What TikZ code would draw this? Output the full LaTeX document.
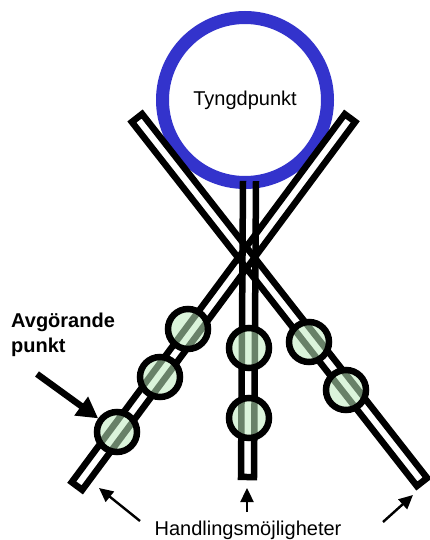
\documentclass[tikz,border=0pt]{standalone}
\usepackage{fontspec}
\setmainfont{Liberation Sans}
\usetikzlibrary{calc,arrows.meta}
\definecolor{ringblue}{RGB}{51,51,204}
\definecolor{beadgreen}{RGB}{190,235,190}
\begin{document}
\begin{tikzpicture}[x=1pt,y=-1pt,
  stickline/.style={draw=black, line width=6.5pt, line join=miter},
  ringnode/.style={circle, draw=ringblue, line width=13pt, minimum size=165pt, inner sep=0pt,
                   font=\fontsize{20pt}{24pt}\selectfont},
  bead/.style={circle, minimum size=40pt, inner sep=0pt, fill=beadgreen, fill opacity=0.55,
               draw=black, draw opacity=1, line width=6.5pt},
  bigarrow/.style={line width=6.5pt, -{Triangle[length=21pt,width=22pt]}},
  smallarrow/.style={line width=2.4pt, -{Triangle[length=14pt,width=13pt]}},
  lbl/.style={font=\fontsize{20pt}{24.5pt}\selectfont, inner sep=0pt}]
\useasboundingbox (0,0) rectangle (430,540);
\fill[white] (0,0) rectangle (430,540);

% centre of gravity
\node[ringnode] (cg) at (245,100) {Tyngdpunkt};

% stick end points
\coordinate (LT) at (350,118); \coordinate (LB) at (77,486);
\coordinate (RT) at (137,118); \coordinate (RB) at (422,482);
\coordinate (MT) at (249.5,181); \coordinate (MB) at (247.5,477);

% sticks
\draw[stickline] ($(LT)!6.5pt!90:(LB)$) -- ($(LB)!6.5pt!-90:(LT)$) -- ($(LB)!6.5pt!90:(LT)$) -- ($(LT)!6.5pt!-90:(LB)$) -- cycle;
\draw[stickline] ($(RT)!6.5pt!90:(RB)$) -- ($(RB)!6.5pt!-90:(RT)$) -- ($(RB)!6.5pt!90:(RT)$) -- ($(RT)!6.5pt!-90:(RB)$) -- cycle;
\draw[stickline] ($(MT)!6.5pt!90:(MB)$) -- ($(MB)!6.5pt!-90:(MT)$) -- ($(MB)!6.5pt!90:(MT)$) -- ($(MT)!6.5pt!-90:(MB)$);

% beads
\node[bead] (l1) at (188,329) {};
\node[bead] (l2) at (160,377) {};
\node[bead] (l3) at (117,432) {};
\node[bead] (m1) at (249,348) {};
\node[bead] (m2) at (249,418) {};
\node[bead] (r1) at (309,342) {};
\node[bead] (r2) at (346,390) {};

% decisive point
\node[lbl, font=\bfseries\fontsize{20pt}{24.5pt}\selectfont, anchor=north west, align=left] (avg) at (11,313) {Avgörande\\punkt};
\coordinate (avgtail) at (37,374);
\draw[bigarrow] (avgtail) -- (l3);

% action possibilities
\node[lbl, anchor=base] (hand) at (248,535) {Handlingsmöjligheter};
\coordinate (h1) at (140,521); \coordinate (e1) at (99,488);
\coordinate (h2) at (247,512); \coordinate (e2) at (247,488);
\coordinate (h3) at (383,522); \coordinate (e3) at (413,495);
\draw[smallarrow] (h1) -- (e1);
\draw[smallarrow] (h2) -- (e2);
\draw[smallarrow] (h3) -- (e3);
\end{tikzpicture}
\end{document}
